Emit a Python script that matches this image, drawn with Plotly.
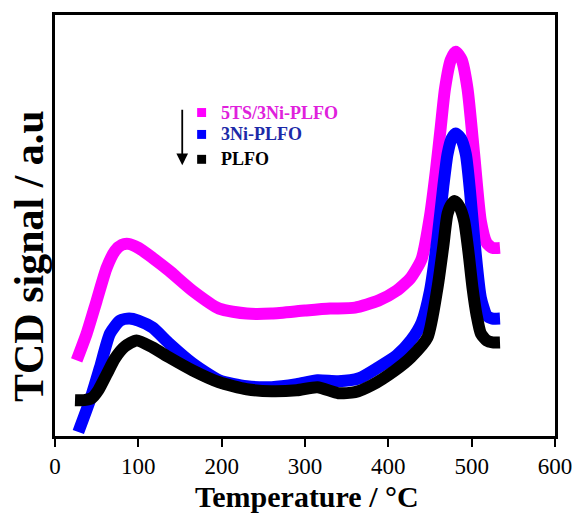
import plotly.graph_objects as go

# Temperature (°C) and TCD signal (a.u.)
t_5ts = [26, 38, 50, 62, 72, 80, 88, 100, 117, 137, 165, 197, 230, 260, 300, 330, 360, 388, 410, 427,
         440, 450, 457, 463, 468, 475, 481, 488, 495, 503, 511, 518, 525, 534]
y_5ts = [76, 103, 136, 169, 186, 192, 193, 189, 179, 166, 146, 128, 123, 123, 126, 128, 129, 136, 146, 159,
         178, 221, 266, 311, 349, 378, 386, 378, 349, 283, 216, 194, 189, 189]

t_3ni = [28, 42, 54, 66, 78, 89, 100, 117, 137, 165, 197, 230, 260, 290, 315, 340, 365, 388, 410, 427,
         440, 450, 459, 466, 471, 476, 481, 487, 493, 498, 503, 511, 518, 525, 534]
y_3ni = [4, 36, 69, 103, 116, 118, 116, 109, 93, 73, 56, 50, 49, 52, 56, 55, 58, 69, 81, 96,
         114, 146, 199, 251, 283, 299, 304, 299, 283, 246, 199, 139, 121, 118, 118]

t_plfo = [24, 35, 44, 52, 62, 72, 84, 98, 117, 137, 165, 197, 230, 260, 290, 315, 340, 360, 380, 408, 427,
          447, 459, 466, 471, 476, 480, 485, 491, 496, 501, 506, 511, 518, 525, 534]
y_plfo = [36, 36, 38, 46, 62, 78, 90, 96, 89, 79, 66, 54, 47, 45, 46, 49, 43, 44, 51, 66, 79,
          99, 149, 191, 223, 233, 236, 231, 216, 186, 149, 121, 103, 96, 94, 94]

series_names = ["5TS/3Ni-PLFO", "3Ni-PLFO", "PLFO"]
line_colors = ["#FF00FF", "#0000FF", "#000000"]
text_colors = ["#E020DC", "#1C2AA8", "#000000"]
x_ticks = [0, 100, 200, 300, 400, 500, 600]

W, H = 584, 519
ML, MR, MT, MB = 55, 26, 13, 83
PW, PH = W - ML - MR, H - MT - MB


def px(x):
    return (x - ML) / PW


def py(y):
    return (MT + PH - y) / PH


fig = go.Figure()
for t, y, c in [(t_5ts, y_5ts, line_colors[0]), (t_3ni, y_3ni, line_colors[1]), (t_plfo, y_plfo, line_colors[2])]:
    fig.add_trace(go.Scatter(x=t, y=y, mode="lines", line=dict(color=c, width=12, shape="spline", smoothing=0.6),
                             showlegend=False, hoverinfo="skip"))

font_fam = "Liberation Serif, Times New Roman, serif"

# manual legend
legend_y = [111, 133, 158]
for name, lc, tc, yy in zip(series_names, line_colors, text_colors, legend_y):
    fig.add_shape(type="rect", xref="paper", yref="paper",
                  x0=px(198), x1=px(207), y0=py(yy + 4.5), y1=py(yy - 4.5),
                  fillcolor=lc, line=dict(width=0))
    fig.add_annotation(xref="paper", yref="paper", x=px(220), y=py(yy), text="<b>%s</b>" % name,
                       showarrow=False, xanchor="left", yanchor="middle",
                       font=dict(family=font_fam, size=18, color=tc))

fig.add_annotation(xref="paper", yref="paper", x=px(183), y=py(164), ax=0, ay=-57,
                   text="", showarrow=True, arrowhead=2, arrowsize=1.3, arrowwidth=1.8, arrowcolor="black")

# axis titles
fig.add_annotation(xref="paper", yref="paper", x=px(29), y=py(255), text="<b>TCD signal / a.u</b>",
                   showarrow=False, xanchor="center", yanchor="middle", textangle=-90,
                   font=dict(family=font_fam, size=42, color="black"))
fig.add_annotation(xref="paper", yref="paper", x=px(309), y=py(497), text="<b>Temperature / °C</b>",
                   showarrow=False, xanchor="center", yanchor="middle",
                   font=dict(family=font_fam, size=30, color="black"))

fig.update_layout(
    width=W, height=H, margin=dict(l=ML, r=MR, t=MT, b=MB),
    paper_bgcolor="white", plot_bgcolor="white",
    xaxis=dict(range=[0, 600], tickvals=x_ticks, ticks="outside", ticklen=8, tickwidth=2, tickcolor="black",
               showline=True, linewidth=2.5, linecolor="black", mirror=True, showgrid=False, zeroline=False,
               tickfont=dict(family=font_fam, size=23, color="black")),
    yaxis=dict(range=[0, 423], showticklabels=False, ticks="", showline=True, linewidth=2.5, linecolor="black",
               mirror=True, showgrid=False, zeroline=False),
)

fig.write_html("out.html")
